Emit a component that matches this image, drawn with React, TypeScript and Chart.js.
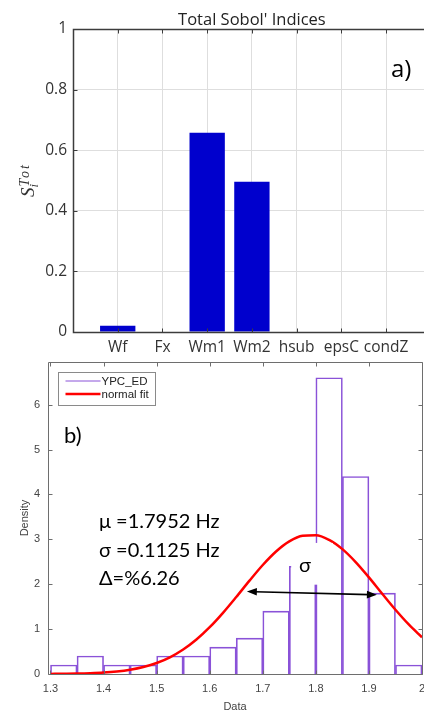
import React, { useEffect, useRef } from 'react';
import { Chart, registerables } from 'chart.js';

Chart.register(...registerables);

// ---------- panel a) data ----------
const sobolTitle = "Total Sobol' Indices";
const sobolPanelTag = 'a)';
const sobolCategories = ['Wf', 'Fx', 'Wm1', 'Wm2', 'hsub', 'epsC', 'condZ'];
const sobolIndices = [0.021, 0, 0.658, 0.496, 0, 0, 0];
const sobolYTicks = [0, 0.2, 0.4, 0.6, 0.8, 1];

// ---------- panel b) data ----------
const histPanelTag = 'b)';
const binEdges = [1.3, 1.35, 1.4, 1.45, 1.5, 1.55, 1.6, 1.65, 1.7, 1.75, 1.8, 1.85, 1.9, 1.95, 2.0];
const binDensity = [0.2, 0.4, 0.2, 0.2, 0.4, 0.4, 0.6, 0.8, 1.4, 2.4, 6.6, 4.4, 1.8, 0.2];
const fitX = [1.3, 1.325, 1.35, 1.375, 1.4, 1.425, 1.45, 1.475, 1.5, 1.525, 1.55, 1.575, 1.6, 1.625, 1.65, 1.675, 1.7, 1.725, 1.75, 1.775, 1.8, 1.825, 1.85, 1.875, 1.9, 1.925, 1.95, 1.975, 2.0];
const fitDensity = [0.002, 0.005, 0.009, 0.017, 0.031, 0.056, 0.095, 0.155, 0.245, 0.372, 0.545, 0.768, 1.042, 1.363, 1.715, 2.079, 2.428, 2.729, 2.954, 3.079, 3.091, 2.987, 2.781, 2.493, 2.152, 1.788, 1.431, 1.104, 0.819];
const histXTicks = [1.3, 1.4, 1.5, 1.6, 1.7, 1.8, 1.9, 2];
const histYTicks = [0, 1, 2, 3, 4, 5, 6];
const seriesNames = ['YPC_ED', 'normal fit'];
const statLines = ['μ =1.7952 Hz', 'σ =0.1125 Hz', 'Δ=%6.26'];
const sigmaLabel = 'σ';
const sigmaArrowX = [1.67, 1.915];
const sigmaArrowY = [1.837, 1.763];

const TOP_W = 470, TOP_H = 356;
const BOT_W = 470, BOT_H = 380, BOT_TOP = 340;

const SANS = 'Lato';
const TOPFONT = '"Open Sans"';
const ARIAL = '"Liberation Sans", Arial, sans-serif';
const SERIF = '"Liberation Serif", "DejaVu Serif", serif';
const PURPLE = 'rgb(138, 82, 216)';

const framePlugin = {
  id: 'frame',
  afterDraw(chart: any, _args: any, o: any) {
    if (!o || !o.enabled) return;
    const { ctx, chartArea: ca, scales } = chart;
    ctx.save();
    ctx.strokeStyle = o.color;
    ctx.lineWidth = o.width;
    const L = Math.round(ca.left) + 0.5, R = Math.round(ca.right) + 0.5;
    const T = Math.round(ca.top) + 0.5, B = Math.round(ca.bottom) + 0.5;
    ctx.beginPath();
    ctx.moveTo(L, B); ctx.lineTo(L, T); ctx.lineTo(R, T); ctx.lineTo(R, B); ctx.closePath();
    ctx.stroke();
    ctx.lineWidth = 1;
    ctx.beginPath();
    for (const t of scales.x.ticks) {
      const px = Math.round(scales.x.getPixelForValue(t.value)) + 0.5;
      ctx.moveTo(px, B); ctx.lineTo(px, B - o.tickLen);
      ctx.moveTo(px, T); ctx.lineTo(px, T + o.tickLen);
    }
    for (const t of scales.y.ticks) {
      const py = Math.round(scales.y.getPixelForValue(t.value)) + 0.5;
      ctx.moveTo(L, py); ctx.lineTo(L + o.tickLen, py);
      ctx.moveTo(R, py); ctx.lineTo(R - o.tickLen, py);
    }
    ctx.stroke();
    ctx.restore();
  },
};

const topDecor = {
  id: 'topDecor',
  afterDraw(chart: any) {
    const { ctx, chartArea: ca } = chart;
    ctx.save();
    ctx.fillStyle = '#222';
    ctx.font = `16.5px ${TOPFONT}`;
    ctx.textAlign = 'center';
    ctx.textBaseline = 'alphabetic';
    ctx.fillText(sobolTitle, (ca.left + ca.right) / 2, ca.top - 4.5);
    ctx.font = `24px ${TOPFONT}`;
    ctx.textAlign = 'left';
    ctx.fillStyle = '#000';
    ctx.fillText(sobolPanelTag, 391, 77);
    // y axis label  S_i^{Tot}
    ctx.translate(33.5, 197);
    ctx.rotate(-Math.PI / 2);
    ctx.fillStyle = '#333';
    ctx.font = `italic 19px ${SERIF}`;
    ctx.fillText('S', 0, 0);
    const sw = ctx.measureText('S').width;
    ctx.font = `italic 13px ${SERIF}`;
    ctx.fillText('i', sw, 4.5);
    ctx.font = `italic 14px ${SERIF}`;
    (ctx as any).letterSpacing = '2px';
    ctx.fillText('Tot', sw + 1, -5);
    ctx.restore();
  },
};

const botDecor = {
  id: 'botDecor',
  afterDraw(chart: any) {
    const { ctx, chartArea: ca, scales } = chart;
    const xs = scales.x, ys = scales.y;
    ctx.save();
    // sigma label with white background
    const bx0 = xs.getPixelForValue(1.7535), bx1 = xs.getPixelForValue(1.832);
    const by0 = ys.getPixelForValue(2.92), by1 = ys.getPixelForValue(1.99);
    ctx.fillStyle = '#fff';
    ctx.fillRect(bx0, by0, bx1 - bx0, by1 - by0);
    ctx.fillStyle = '#000';
    ctx.font = `20px ${SANS}`;
    ctx.textAlign = 'center';
    ctx.fillText(sigmaLabel, xs.getPixelForValue(1.7795), ys.getPixelForValue(2.28));
    // arrow
    const x0 = xs.getPixelForValue(sigmaArrowX[0]), y0 = ys.getPixelForValue(sigmaArrowY[0]);
    const x1 = xs.getPixelForValue(sigmaArrowX[1]), y1 = ys.getPixelForValue(sigmaArrowY[1]);
    const ang = Math.atan2(y1 - y0, x1 - x0);
    const hl = 10, hw = 3.8;
    ctx.strokeStyle = '#000';
    ctx.lineWidth = 1.6;
    ctx.beginPath();
    ctx.moveTo(x0 + Math.cos(ang) * hl * 0.8, y0 + Math.sin(ang) * hl * 0.8);
    ctx.lineTo(x1 - Math.cos(ang) * hl * 0.8, y1 - Math.sin(ang) * hl * 0.8);
    ctx.stroke();
    const head = (tx: number, ty: number, a: number) => {
      ctx.beginPath();
      ctx.moveTo(tx, ty);
      ctx.lineTo(tx - Math.cos(a) * hl - Math.sin(a) * hw, ty - Math.sin(a) * hl + Math.cos(a) * hw);
      ctx.lineTo(tx - Math.cos(a) * hl + Math.sin(a) * hw, ty - Math.sin(a) * hl - Math.cos(a) * hw);
      ctx.closePath();
      ctx.fill();
    };
    head(x1, y1, ang);
    head(x0, y0, ang + Math.PI);
    // stats text
    ctx.textAlign = 'left';
    ctx.font = `20px ${SANS}`;
    statLines.forEach((s, i) => ctx.fillText(s, ca.left + 51, ca.top + 166 + i * 28.5));
    ctx.font = `22px ${SANS}`;
    ctx.fillText(histPanelTag, ca.left + 16, ca.top + 81);
    // legend
    const lx = ca.left + 10.5, ly = ca.top + 10.5, lw = 97, lh = 33;
    ctx.fillStyle = '#fff';
    ctx.fillRect(lx, ly, lw, lh);
    ctx.strokeStyle = '#8a8a8a';
    ctx.lineWidth = 1;
    ctx.strokeRect(lx, ly, lw, lh);
    ctx.font = `11.5px ${ARIAL}`;
    ctx.textBaseline = 'middle';
    ctx.fillStyle = '#222';
    const rows = [{ c: PURPLE, w: 1 }, { c: '#ff0000', w: 2.5 }];
    rows.forEach((r, i) => {
      const yy = ly + 8.5 + i * 13;
      ctx.strokeStyle = r.c;
      ctx.lineWidth = r.w;
      ctx.beginPath();
      ctx.moveTo(lx + 7, yy);
      ctx.lineTo(lx + 42, yy);
      ctx.stroke();
      ctx.fillText(seriesNames[i], lx + 43, yy + 0.5);
    });
    ctx.restore();
  },
};

export default function App() {
  const topRef = useRef<HTMLCanvasElement>(null);
  const botRef = useRef<HTMLCanvasElement>(null);

  useEffect(() => {
    const top = new Chart(topRef.current as HTMLCanvasElement, {
      type: 'bar',
      data: {
        datasets: [
          {
            data: sobolCategories.map((_, i) => ({ x: i + 1, y: sobolIndices[i] })),
            backgroundColor: '#0000cd',
            borderWidth: 0,
            barPercentage: 0.79,
            categoryPercentage: 1,
          } as any,
        ],
      },
      options: {
        responsive: false,
        animation: false,
        events: [],
        layout: { padding: { top: 29, right: TOP_W - 430.8, left: 0, bottom: 0 } },
        plugins: {
          legend: { display: false },
          tooltip: { enabled: false },
          frame: { enabled: true, color: '#3c3c3c', width: 1.5, tickLen: 4 },
        } as any,
        scales: {
          x: {
            type: 'linear',
            min: 0,
            max: sobolCategories.length + 1,
            offset: false,
            grid: { offset: false, color: '#dedede', drawTicks: false },
            border: { display: false },
            ticks: {
              autoSkip: false,
              maxRotation: 0,
              padding: 6,
              color: '#333',
              font: { family: TOPFONT, size: 15.5 },
              callback: (v: any) => sobolCategories[Number(v) - 1] ?? '',
            },
            afterBuildTicks: (s: any) => {
              s.ticks = Array.from({ length: sobolCategories.length + 2 }, (_, i) => ({ value: i }));
            },
            afterFit: (s: any) => { s.height = TOP_H - 332; },
          },
          y: {
            min: 0,
            max: 1,
            grid: { color: '#dedede', drawTicks: false },
            border: { display: false },
            ticks: {
              padding: 6,
              color: '#333',
              font: { family: TOPFONT, size: 15.5 },
              callback: (v: any) => String(v),
            },
            afterBuildTicks: (s: any) => { s.ticks = sobolYTicks.map((v) => ({ value: v })); },
            afterFit: (s: any) => { s.width = 73; },
          },
        } as any,
      },
      plugins: [framePlugin, topDecor],
    });

    const centers = binDensity.map((_, i) => (binEdges[i] + binEdges[i + 1]) / 2);
    const bot = new Chart(botRef.current as HTMLCanvasElement, {
      type: 'bar',
      data: {
        datasets: [
          {
            type: 'line',
            label: seriesNames[1],
            data: fitX.map((x, i) => ({ x, y: fitDensity[i] })),
            borderColor: '#ff0000',
            borderWidth: 2.5,
            pointRadius: 0,
            cubicInterpolationMode: 'monotone',
            fill: false,
            order: 0,
          } as any,
          {
            type: 'bar',
            label: seriesNames[0],
            data: centers.map((x, i) => ({ x, y: binDensity[i] })),
            borderColor: PURPLE,
            backgroundColor: 'rgba(255,255,255,0)',
            borderWidth: 1,
            barPercentage: 1,
            categoryPercentage: 1,
            order: 1,
          } as any,
        ],
      },
      options: {
        responsive: false,
        animation: false,
        events: [],
        layout: { padding: { top: 22, right: BOT_W - 422, left: 0, bottom: 0 } },
        plugins: {
          legend: { display: false },
          tooltip: { enabled: false },
          frame: { enabled: true, color: '#6e6e6e', width: 1, tickLen: 4 },
        } as any,
        scales: {
          x: {
            type: 'linear',
            min: 1.2953,
            max: 2.0,
            offset: false,
            grid: { display: false, offset: false, drawTicks: false },
            border: { display: false },
            title: {
              display: true,
              text: 'Data',
              color: '#444',
              font: { family: ARIAL, size: 11 },
              padding: { top: 0, bottom: 6.4 },
            },
            ticks: {
              autoSkip: false,
              maxRotation: 0,
              padding: 8.4,
              color: '#444',
              font: { family: ARIAL, size: 11 },
              callback: (v: any) => String(v),
            },
            afterBuildTicks: (s: any) => { s.ticks = histXTicks.map((v) => ({ value: v })); },
            afterFit: (s: any) => { s.height = BOT_H - 334; },
          },
          y: {
            min: 0,
            max: 6.95,
            grid: { display: false, drawTicks: false },
            border: { display: false },
            title: {
              display: true,
              text: 'Density',
              color: '#444',
              font: { family: ARIAL, size: 11 },
              padding: { top: 18.4, bottom: 0 },
            },
            ticks: {
              padding: 8,
              color: '#444',
              font: { family: ARIAL, size: 11 },
              callback: (v: any) => String(v),
            },
            afterBuildTicks: (s: any) => { s.ticks = histYTicks.map((v) => ({ value: v })); },
            afterFit: (s: any) => { s.width = 48; },
          },
        } as any,
      },
      plugins: [framePlugin, botDecor],
    });

    return () => {
      top.destroy();
      bot.destroy();
    };
  }, []);

  return (
    <div style={{ position: 'fixed', left: 0, top: 0, width: 424, height: 710, overflow: 'hidden', background: '#fff' }}>
      <canvas ref={topRef} width={TOP_W} height={TOP_H} style={{ position: 'absolute', left: 0, top: 0 }} />
      <canvas ref={botRef} width={BOT_W} height={BOT_H} style={{ position: 'absolute', left: 0, top: BOT_TOP }} />
    </div>
  );
}
